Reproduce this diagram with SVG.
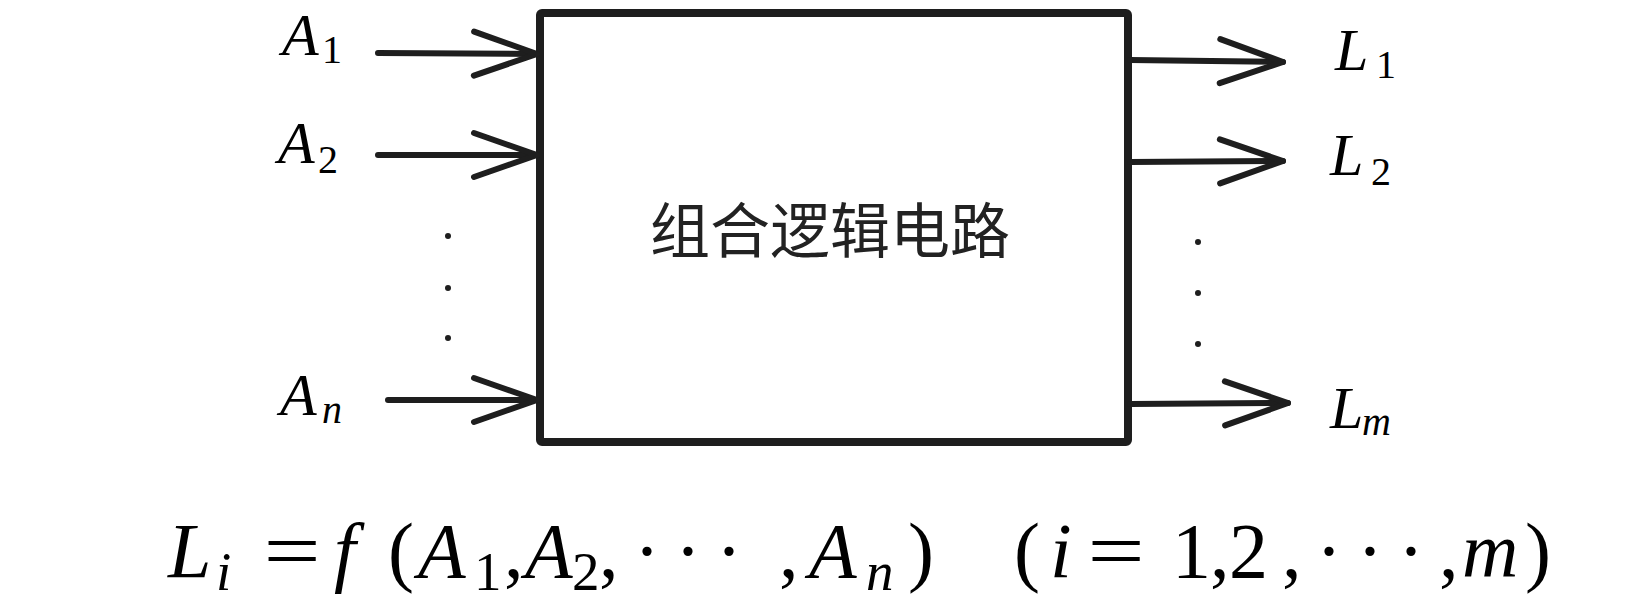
<svg xmlns="http://www.w3.org/2000/svg" width="1647" height="599" viewBox="0 0 1647 599">
  <style>
    .ln { stroke: #1e1e1e; stroke-width: 6; fill: none; stroke-linecap: round; stroke-linejoin: round; }
    .box { stroke: #1e1e1e; stroke-width: 8; fill: #ffffff; stroke-linejoin: round; }
    .m { font-family: "Liberation Serif", "Times New Roman", "DejaVu Serif", serif; fill: #000; }
    .it { font-style: italic; }
    .lab { font-size: 60px; }
    .sub { font-size: 40px; }
    .f { font-size: 78px; }
    .fs { font-size: 55px; }
    .cn { font-family: "Noto Sans CJK SC", "Noto Sans", sans-serif; font-size: 60px; fill: #222; }
    .dot { fill: #1e1e1e; }
  </style>
  <defs>
    <marker id="ah" markerUnits="userSpaceOnUse" viewBox="-70 -30 80 60" refX="0" refY="0" markerWidth="80" markerHeight="60" orient="auto" overflow="visible">
      <path d="M -63 -22 L 0 0 L -63 22" fill="none" stroke="#1e1e1e" stroke-width="6" stroke-linecap="round" stroke-linejoin="round"/>
    </marker>
  </defs>

  <g id="block">
    <rect class="box" x="540" y="13" width="588" height="429" rx="2"/>
    <text class="cn" x="830" y="253" text-anchor="middle">组合逻辑电路</text>
  </g>

  <g id="connectors">
    <path class="ln" d="M 378 53 L 537 54" marker-end="url(#ah)"/>
    <path class="ln" d="M 378 155 L 537 155" marker-end="url(#ah)"/>
    <path class="ln" d="M 388 400 L 537 400" marker-end="url(#ah)"/>
    <path class="ln" d="M 1130 60 L 1283 62" marker-end="url(#ah)"/>
    <path class="ln" d="M 1130 162 L 1283 161" marker-end="url(#ah)"/>
    <path class="ln" d="M 1130 404 L 1288 403" marker-end="url(#ah)"/>
  </g>

  <g id="input-labels">
    <text class="m it lab" x="282" y="55">A</text><text class="m sub" x="322" y="63">1</text>
    <text class="m it lab" x="278" y="163">A</text><text class="m sub" x="318" y="173">2</text>
    <text class="m it lab" x="280" y="415">A</text><text class="m it sub" x="322" y="423">n</text>
    <circle class="dot" cx="448" cy="236" r="3"/>
    <circle class="dot" cx="448" cy="288" r="3"/>
    <circle class="dot" cx="448" cy="338" r="3"/>
  </g>

  <g id="output-labels">
    <text class="m it lab" x="1335" y="70">L</text><text class="m sub" x="1376" y="78">1</text>
    <text class="m it lab" x="1330" y="175">L</text><text class="m sub" x="1371" y="185">2</text>
    <text class="m it lab" x="1330" y="428">L</text><text class="m it sub" x="1362" y="435">m</text>
    <circle class="dot" cx="1198" cy="242" r="3"/>
    <circle class="dot" cx="1198" cy="293" r="3"/>
    <circle class="dot" cx="1198" cy="344" r="3"/>
  </g>

  <g id="formula">
    <text class="m it f" x="168" y="577">L</text><text class="m it fs" x="216" y="590">i</text>
    <text class="m f" transform="translate(292 577) scale(1.3 1)" text-anchor="middle">=</text>
    <text class="m it f" x="334" y="577">f</text>
    <text class="m f" x="388" y="577">(</text>
    <text class="m it f" x="418" y="577">A</text><text class="m fs" x="474" y="590">1</text>
    <text class="m f" x="504" y="577">,</text>
    <text class="m it f" x="525" y="577">A</text><text class="m fs" x="572" y="590">2</text>
    <text class="m f" x="599" y="577">,</text>
    <text class="m f" x="634 675 716" y="577">···</text>
    <text class="m f" x="779" y="577">,</text>
    <text class="m it f" x="809" y="577">A</text><text class="m it fs" x="866" y="590">n</text>
    <text class="m f" x="908" y="577">)</text>
    <text class="m f" x="1014" y="577">(</text>
    <text class="m it f" x="1050" y="577">i</text>
    <text class="m f" transform="translate(1116 577) scale(1.3 1)" text-anchor="middle">=</text>
    <text class="m f" x="1172" y="577">1</text>
    <text class="m f" x="1210" y="577">,</text>
    <text class="m f" x="1229" y="577">2</text>
    <text class="m f" x="1282" y="577">,</text>
    <text class="m f" x="1316 1357 1398" y="577">···</text>
    <text class="m f" x="1439" y="577">,</text>
    <text class="m it f" x="1462" y="577">m</text>
    <text class="m f" x="1525" y="577">)</text>
  </g>
</svg>
